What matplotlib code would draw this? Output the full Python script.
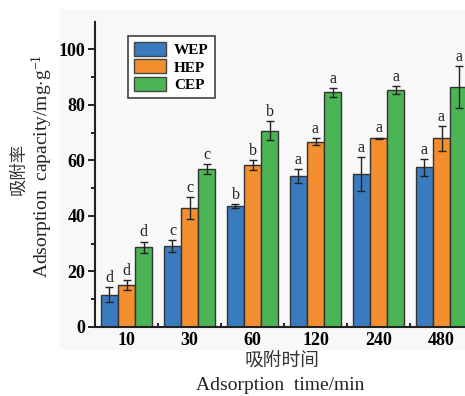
import matplotlib
matplotlib.use("Agg")
import matplotlib.pyplot as plt
import numpy as np
from matplotlib.patches import Rectangle
from matplotlib.ticker import FixedLocator

plt.rcParams["mathtext.fontset"] = "custom"
plt.rcParams["mathtext.rm"] = "Liberation Serif"
plt.rcParams["mathtext.it"] = "Liberation Serif:italic"
plt.rcParams["mathtext.bf"] = "Liberation Serif:bold"

categories = ["10", "30", "60", "120", "240", "480"]
series = ["WEP", "HEP", "CEP"]
wep = [11.6, 29.1, 43.4, 54.4, 55.0, 57.5]
hep = [15.0, 42.9, 58.3, 66.7, 67.9, 68.0]
cep = [28.7, 56.9, 70.7, 84.5, 85.4, 86.3]
wep_err = [2.8, 2.0, 0.7, 2.6, 6.2, 3.1]
hep_err = [1.9, 4.0, 1.7, 1.2, 0.3, 4.5]
cep_err = [2.0, 1.7, 3.4, 1.7, 1.5, 7.6]
wep_lab = ["d", "c", "b", "a", "a", "a"]
hep_lab = ["d", "c", "b", "a", "a", "a"]
cep_lab = ["d", "c", "b", "a", "a", "a"]

colors = ["#3a7bc0", "#f38f2f", "#4bb556"]
bg = "#f8f8f8"

fig = plt.figure(figsize=(4.65, 3.96), dpi=100)
fig.patches.append(Rectangle((60/465, 46/396), 1 - 60/465, (350-9)/396,
                             transform=fig.transFigure, facecolor=bg,
                             edgecolor="none", zorder=-10))
ax = fig.add_axes([95/465, 69.3/396, 378/465, 305/396])
ax.set_facecolor(bg)

x = np.arange(len(categories))
w = 0.27
serif = "Liberation Serif"
for i, (vals, errs, labs) in enumerate([(wep, wep_err, wep_lab),
                                        (hep, hep_err, hep_lab),
                                        (cep, cep_err, cep_lab)]):
    xs = x + (i - 1) * w
    ax.bar(xs, vals, width=w, color=colors[i], edgecolor="#333333",
           linewidth=1.0, label=series[i], zorder=2)
    ax.errorbar(xs, vals, yerr=errs, fmt="none", ecolor="#222222",
                elinewidth=1.0, capsize=2.8, capthick=1.0, zorder=3)
    for xi, v, e, l in zip(xs, vals, errs, labs):
        ax.text(xi, v + e + 0.4, l, ha="center", va="bottom",
                fontfamily=serif, fontsize=11.5, color="#222222", zorder=4)

ax.set_xlim(-0.5, 5.5)
ax.set_ylim(0, 110)
ax.set_xticks(x)
ax.set_xticklabels(categories)
ax.xaxis.set_minor_locator(FixedLocator(x[:-1] + 0.5))
ax.set_yticks([0, 20, 40, 60, 80, 100])
ax.yaxis.set_minor_locator(FixedLocator([10, 30, 50, 70, 90]))

for lbl in ax.get_xticklabels() + ax.get_yticklabels():
    lbl.set_fontfamily(serif)
    lbl.set_fontweight("bold")
    lbl.set_fontsize(13)

ax.tick_params(axis="x", which="major", direction="in", length=4, width=1.2, pad=4)
ax.tick_params(axis="x", which="minor", direction="in", length=3, width=1.2)
ax.tick_params(axis="y", which="major", direction="out", length=5, width=1.2, pad=2)
ax.tick_params(axis="y", which="minor", direction="out", length=3, width=1.2)

for s in ["top", "right"]:
    ax.spines[s].set_visible(False)
for s in ["left", "bottom"]:
    ax.spines[s].set_linewidth(1.5)
    ax.spines[s].set_color("#222222")

leg = ax.legend(loc="upper left", frameon=True, fancybox=False,
                prop={"family": serif, "weight": "bold", "size": 11},
                handlelength=2.1, handleheight=1.0, labelspacing=0.15,
                handletextpad=0.5, borderpad=0.4, borderaxespad=0)
leg.set_bbox_to_anchor((128/465, 1 - 36/396), transform=fig.transFigure)
leg.get_frame().set_edgecolor("#111111")
leg.get_frame().set_linewidth(1.2)
leg.get_frame().set_facecolor("white")
for h in leg.legend_handles:
    h.set_linewidth(1.0)
    h.set_edgecolor("#444444")

cjk = ["Noto Sans CJK SC", "DejaVu Sans"]
fig.text(18.5/465, 1 - 168.5/396, "吸附率", rotation=90, ha="center", va="center",
         family=cjk, fontsize=12.5, color="#333333")
fig.text(42/465, 1 - 166/396, "Adsorption  capacity/mg$\\cdot$g$^{-1}$", rotation=90,
         ha="center", va="center", family=serif, fontsize=14, color="#222222")
fig.text(282/465, 1 - 360/396, "吸附时间", ha="center", va="center",
         family=cjk, fontsize=13.5, color="#333333")
fig.text(280/465, 1 - 385/396, "Adsorption  time/min", ha="center", va="center",
         family=serif, fontsize=14, color="#222222")

fig.savefig("out.png", dpi=100)
